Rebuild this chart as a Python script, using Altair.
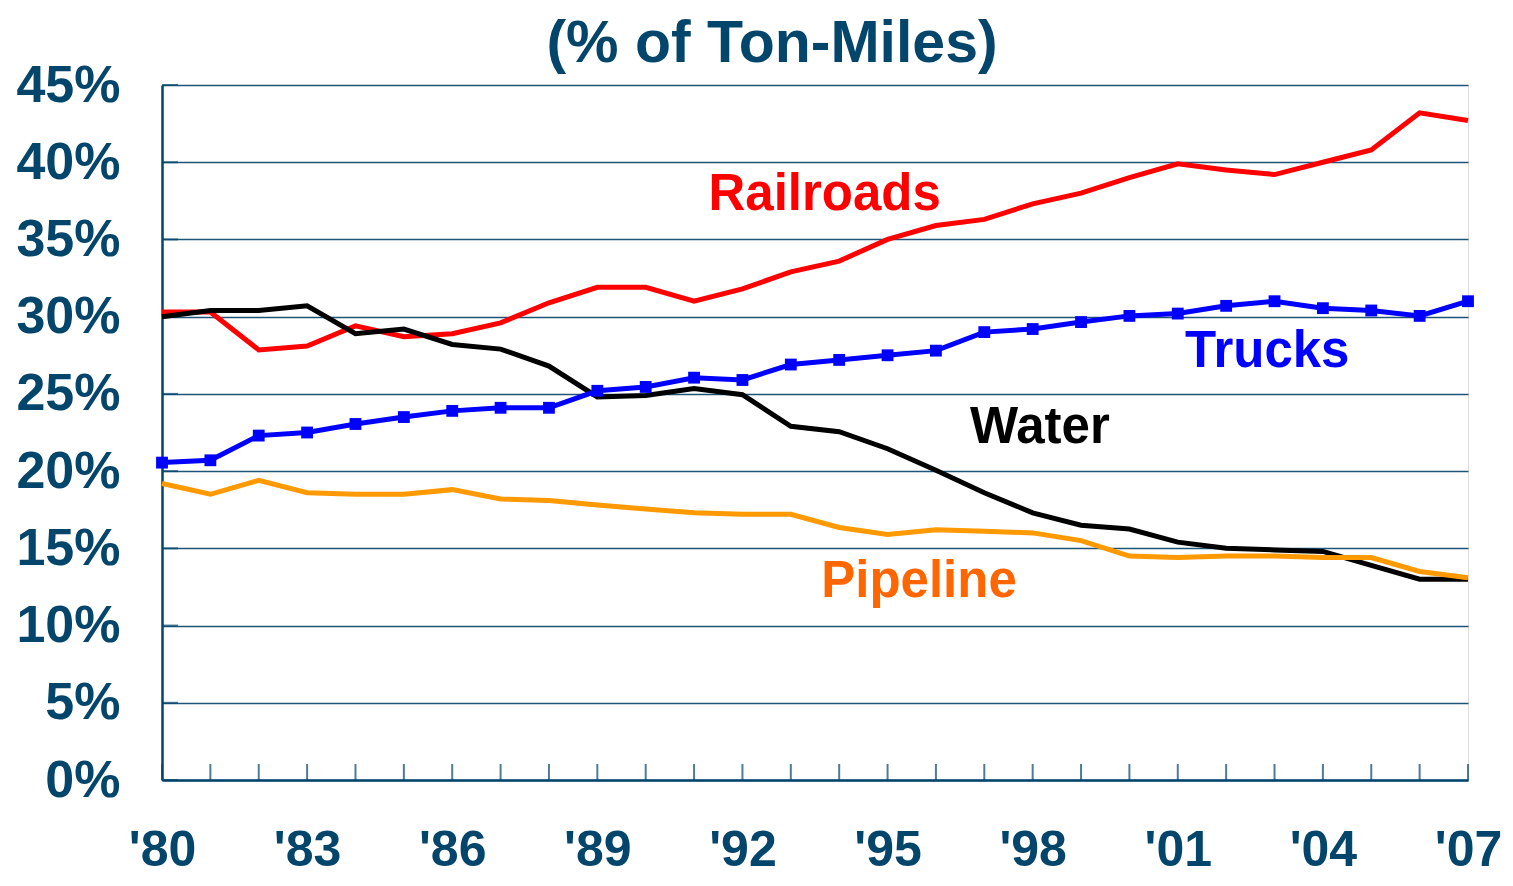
import altair as alt
import pandas as pd

years = list(range(1980, 2008))
railroads = [30.3, 30.3, 27.85, 28.1, 29.4, 28.7, 28.9, 29.6, 30.9, 31.9, 31.9, 31.0, 31.8, 32.9,
             33.6, 35.0, 35.9, 36.3, 37.3, 38.0, 39.0, 39.9, 39.5, 39.2, 40.0, 40.8, 43.2, 42.7]
trucks = [20.55, 20.7, 22.3, 22.5, 23.05, 23.5, 23.9, 24.1, 24.1, 25.2, 25.45, 26.05, 25.9, 26.9,
          27.2, 27.5, 27.8, 29.0, 29.2, 29.65, 30.05, 30.2, 30.7, 31.0, 30.55, 30.4, 30.05, 31.0]
water = [30.0, 30.4, 30.4, 30.7, 28.9, 29.2, 28.2, 27.9, 26.8, 24.8, 24.9, 25.35, 24.95, 22.9,
         22.55, 21.45, 20.05, 18.6, 17.3, 16.5, 16.25, 15.4, 15.0, 14.9, 14.8, 13.9, 13.0, 13.0]
pipeline = [19.2, 18.5, 19.4, 18.6, 18.5, 18.5, 18.8, 18.2, 18.1, 17.8, 17.55, 17.3, 17.2, 17.2,
            16.35, 15.9, 16.2, 16.1, 16.0, 15.5, 14.5, 14.4, 14.5, 14.5, 14.4, 14.4, 13.5, 13.1]

series_names = ["Railroads", "Water", "Pipeline", "Trucks"]
line_colors = ["#FF0000", "#000000", "#FF9900", "#0000FF"]
label_colors = ["#FF0000", "#000000", "#FF6600", "#0000FF"]
label_x = [1993.7, 1998.15, 1995.65, 2002.85]
label_y = [37.9, 22.8, 12.8, 27.7]

x_label_years = list(range(1980, 2008, 3))
y_ticks = list(range(0, 50, 5))

TEXT = "#03456B"
FONT = "Liberation Sans, Arial, sans-serif"

values = {"Railroads": railroads, "Water": water, "Pipeline": pipeline, "Trucks": trucks}
rows = []
for name in series_names:
    for yr, v in zip(years, values[name]):
        rows.append({"year": yr, "value": v, "series": name})
df = pd.DataFrame(rows)

xscale = alt.Scale(domain=[1980, 2007], nice=False, zero=False)
yscale = alt.Scale(domain=[0, 45], nice=False)

xenc = alt.X("year:Q", scale=xscale, axis=alt.Axis(
    values=x_label_years, labelExpr="\"'\" + substring(toString(datum.value), 2, 4)",
    grid=False, ticks=False, domain=True, domainColor=TEXT, domainWidth=2.5,
    labelFont=FONT, labelFontSize=50, labelFontWeight="bold", labelColor=TEXT,
    labelBaseline="alphabetic", labelPadding=85, labelFlush=False, title=None))
yenc = alt.Y("value:Q", scale=yscale, axis=alt.Axis(
    values=y_ticks, labelExpr="datum.value + '%'",
    grid=True, gridColor="#1E5478", gridWidth=1.5, ticks=False, domain=True,
    domainColor=TEXT, domainWidth=2.5,
    labelFont=FONT, labelFontSize=52, labelFontWeight="bold", labelColor=TEXT,
    labelPadding=42, title=None))

layers = []
# inward ticks
xt = pd.DataFrame({"year": years, "value": [0] * len(years)})
layers.append(alt.Chart(xt).mark_tick(orient="vertical", size=16, thickness=2, yOffset=-8,
                                       color=TEXT).encode(x=xenc, y=yenc))
yt = pd.DataFrame({"year": [1980] * len(y_ticks), "value": y_ticks})
layers.append(alt.Chart(yt).mark_tick(orient="horizontal", size=16, thickness=2, xOffset=8,
                                       color=TEXT).encode(x=xenc, y=yenc))

for name, col in zip(series_names, line_colors):
    sub = df[df.series == name]
    layers.append(alt.Chart(sub).mark_line(color=col, strokeWidth=5).encode(x=xenc, y=yenc))
    if name == "Trucks":
        layers.append(alt.Chart(sub).mark_square(color=col, size=140, opacity=1).encode(x=xenc, y=yenc))

lab = pd.DataFrame({"year": label_x, "value": label_y, "label": series_names, "color": label_colors})
layers.append(alt.Chart(lab).mark_text(font=FONT, fontSize=51, fontWeight="bold",
                                       align="center", baseline="middle").encode(
    x=xenc, y=yenc, text="label:N", color=alt.Color("color:N", scale=None)))

chart = alt.layer(*layers).properties(
    width=1306, height=695,
    title=alt.TitleParams("(% of Ton-Miles)", font=FONT, fontSize=59, fontWeight="bold",
                          color=TEXT, anchor="middle", dx=-43, offset=-15),
    autosize=alt.AutoSizeParams(type="none"),
    padding={"left": 154, "top": 77, "right": 37, "bottom": 96},
).configure_view(stroke=TEXT, strokeWidth=1.5).configure(background="white")

chart.save("out.html", embed_options={"renderer": "svg", "actions": False})
